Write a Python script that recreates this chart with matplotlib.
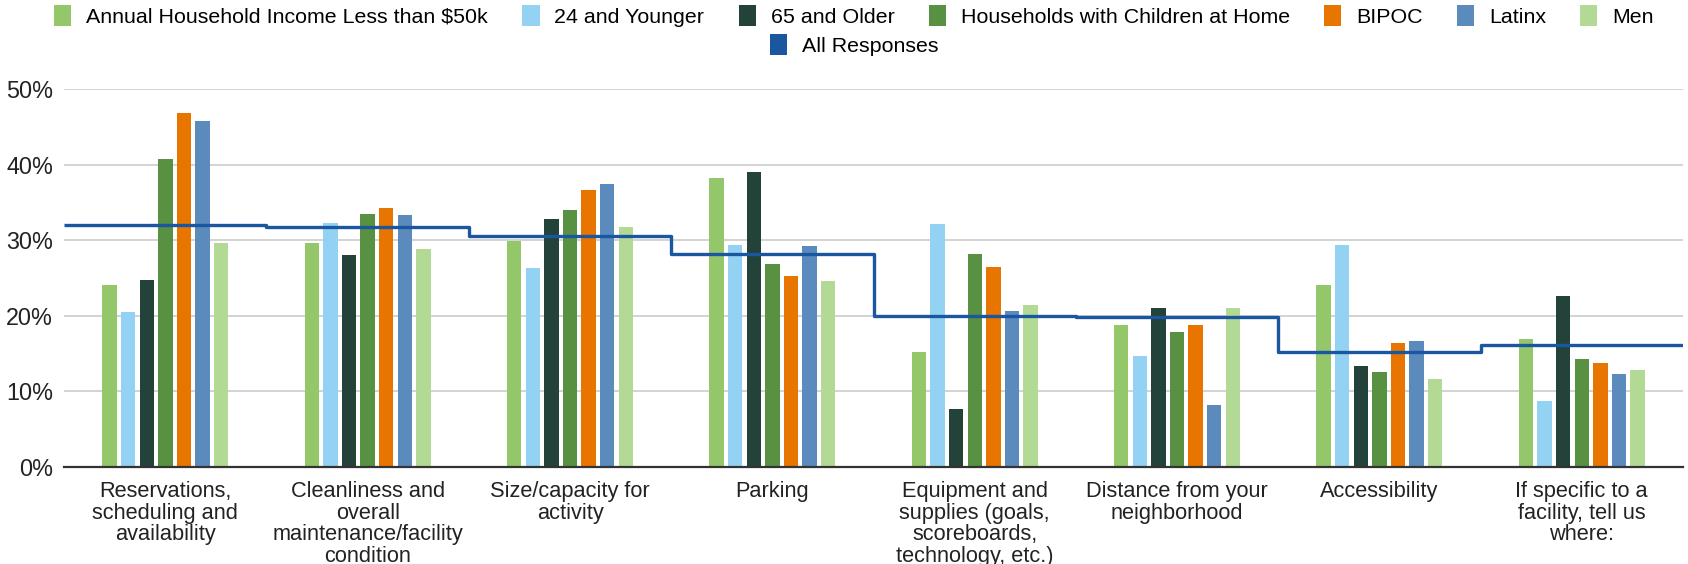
import matplotlib
matplotlib.use("Agg")
import matplotlib.pyplot as plt
from matplotlib.patches import Patch
from matplotlib.ticker import PercentFormatter
import numpy as np

plt.rcParams['font.family'] = ['Liberation Sans', 'DejaVu Sans']

categories = [
    "Reservations,\nscheduling and\navailability",
    "Cleanliness and\noverall\nmaintenance/facility\ncondition",
    "Size/capacity for\nactivity",
    "Parking",
    "Equipment and\nsupplies (goals,\nscoreboards,\ntechnology, etc.)",
    "Distance from your\nneighborhood",
    "Accessibility",
    "If specific to a\nfacility, tell us\nwhere:",
]

series_names = [
    "Annual Household Income Less than $50k",
    "24 and Younger",
    "65 and Older",
    "Households with Children at Home",
    "BIPOC",
    "Latinx",
    "Men",
]
income_lt_50k = [24.1, 29.7, 29.9, 38.3, 15.2, 18.8, 24.1, 16.9]
age_24_younger = [20.5, 32.3, 26.3, 29.4, 32.2, 14.7, 29.4, 8.7]
age_65_older = [24.8, 28.0, 32.8, 39.0, 7.7, 21.0, 13.3, 22.6]
hh_children = [40.7, 33.5, 34.0, 26.8, 28.2, 17.8, 12.6, 14.3]
bipoc = [46.8, 34.3, 36.7, 25.3, 26.5, 18.8, 16.4, 13.8]
latinx = [45.8, 33.3, 37.4, 29.2, 20.7, 8.2, 16.7, 12.3]
men = [29.7, 28.9, 31.8, 24.6, 21.5, 21.0, 11.6, 12.8]
all_responses = [32.0, 31.8, 30.6, 28.2, 20.0, 19.9, 15.2, 16.1]

colors = ["#93c76a", "#93d2f2", "#22423a", "#579141", "#e87500", "#5b8abd", "#b3da95"]
line_color = "#1b56a0"

series = [income_lt_50k, age_24_younger, age_65_older, hh_children, bipoc, latinx, men]

fig = plt.figure(figsize=(16.88, 5.64), dpi=100)
ax = fig.add_axes([0.038, 0.172, 0.959, 0.670])

x = np.arange(len(categories))
pitch = 0.092
width = 0.071
for i, (vals, c) in enumerate(zip(series, colors)):
    ax.bar(x + (i - 3) * pitch, vals, width=width, color=c, zorder=2)

edges = np.arange(len(categories) + 1) - 0.5
st = ax.stairs(all_responses, edges, baseline=None, color=line_color, linewidth=2.4, zorder=3)
st.set_joinstyle("round")

ax.set_xlim(-0.5, len(categories) - 0.5)
ax.set_ylim(0, 50)
ax.set_yticks([0, 10, 20, 30, 40, 50])
ax.yaxis.set_major_formatter(PercentFormatter(decimals=0))
ax.set_xticks(x)
ax.set_xticklabels(categories, fontsize=15.7, linespacing=1.04, color="#222222")
ax.tick_params(axis="y", length=0, labelsize=16.8, labelcolor="#222222", pad=8)
ax.tick_params(axis="x", length=0, pad=10)
ax.grid(axis="y", color="#d3d3d3", linewidth=1.4, zorder=0)
for s in ["top", "right", "left"]:
    ax.spines[s].set_visible(False)
ax.spines["bottom"].set_color("#333333")
ax.spines["bottom"].set_linewidth(1.6)
ax.spines["bottom"].set_zorder(4)

handles = [Patch(facecolor=c, edgecolor="none") for c in colors]
fig.legend(handles, series_names, loc="center", bbox_to_anchor=(0.506, 0.972),
           ncol=7, frameon=False, fontsize=15.4, handlelength=0.8, handleheight=1.1,
           handletextpad=0.7, columnspacing=1.6)
fig.legend([Patch(facecolor=line_color, edgecolor="none")], ["All Responses"], loc="center",
           bbox_to_anchor=(0.506, 0.920), frameon=False, fontsize=15.4, handlelength=0.8,
           handleheight=1.1, handletextpad=0.7)

fig.savefig("out.png", dpi=100)
